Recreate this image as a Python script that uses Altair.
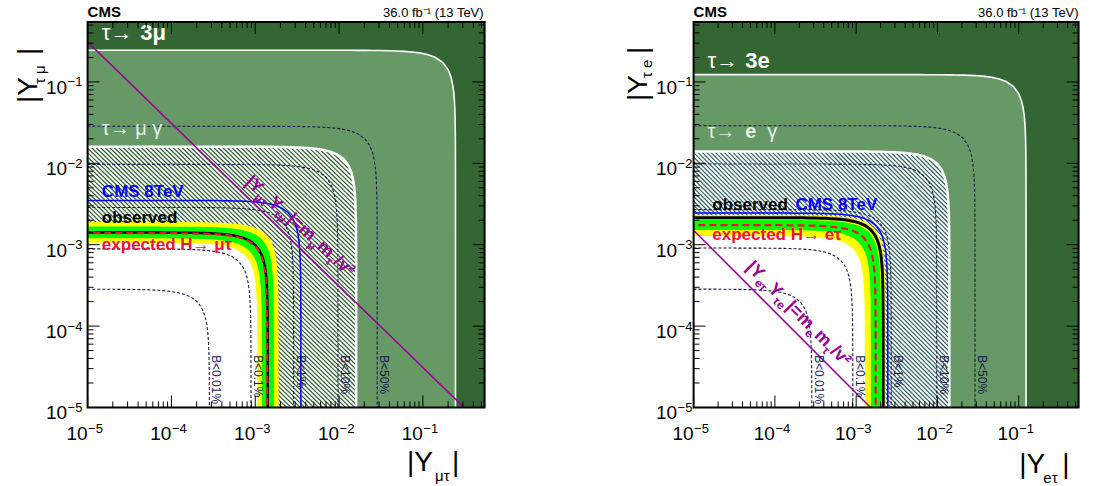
import numpy as np
import pandas as pd
import altair as alt

FONT = "Liberation Sans"

# ---- common log axis range, tick positions and tick label exponents ----
AX_MIN, AX_MAX = 1e-5, 0.545
MAJOR_TICKS = [1e-5, 1e-4, 1e-3, 1e-2, 1e-1]
TICK_EXPONENTS = ["−5", "−4", "−3", "−2", "−1"]
MINOR_TICKS = [m * d for d in MAJOR_TICKS for m in range(2, 10) if m * d <= AX_MAX]

B_LABELS = ["B<0.01%", "B<0.1%", "B<1%", "B<10%", "B<50%"]

# ---- H -> mu tau plane: contour radii in sqrt(|Y1|^2 + |Y2|^2) ----
MT_B_RADII = [2.84e-4, 8.9e-4, 2.87e-3, 9.7e-3, 2.85e-2]
MT_TAU_3L = 0.245          # tau -> 3 mu
MT_TAU_LG = 0.016          # tau -> mu gamma
MT_OBSERVED = 1.41e-3
MT_EXPECTED = 1.39e-3
MT_BAND_1SIG = [1.20e-3, 1.67e-3]
MT_BAND_2SIG = [1.06e-3, 1.90e-3]
MT_CMS_8TEV = 3.5e-3
MT_NATURALNESS = 3.1e-6    # m_mu m_tau / v^2

# ---- H -> e tau plane ----
ET_B_RADII = [2.85e-4, 9.1e-4, 2.7e-3, 9.8e-3, 2.9e-2]
ET_TAU_3L = 0.123          # tau -> 3 e
ET_TAU_LG = 0.014          # tau -> e gamma
ET_OBSERVED = 2.15e-3
ET_EXPECTED = 1.74e-3
ET_BAND_1SIG = [1.52e-3, 2.02e-3]
ET_BAND_2SIG = [1.28e-3, 2.30e-3]
ET_CMS_8TEV = 2.45e-3
ET_NATURALNESS = 1.5e-8    # m_e m_tau / v^2

NATURAL_X = [1e-7, 10.0]

DARK_GREEN = "#336633"
LIGHT_GREEN = "#669966"
YELLOW = "#ffff00"
BRIGHT_GREEN = "#00ff00"
RED = "#f01038"
BLUE = "#0000ff"
PURPLE = "#990099"
NAVY = "#161650"

LO = 1e-9  # curves run below the visible range and are clipped by the frame

XS = alt.Scale(type="log", domain=[AX_MIN, AX_MAX], nice=False)
YS = alt.Scale(type="log", domain=[AX_MIN, AX_MAX], nice=False)
ONE = pd.DataFrame({"k": [0]})
H = 385.5


def contour(r, n=90):
    """Iso-curve |Y1|^2 + |Y2|^2 = r^2, sampled evenly in log space."""
    a = np.logspace(np.log10(LO), np.log10(r / np.sqrt(2)), n)
    tail = a[::-1][1:]
    x = np.concatenate([a, np.sqrt(r * r - tail * tail)])
    y = np.concatenate([np.sqrt(r * r - a * a), tail])
    return pd.DataFrame({"x": x, "y": y, "o": np.arange(len(x)), "base": LO})


def hatch_segments(r, step=0.054):
    """Diagonal hatch lines (constant |Y1*Y2|) inside the iso-curve of radius r."""
    rows = []
    c = 2 * np.log10(AX_MIN) - step
    top = np.log10(r * r / 2)
    while c < top:
        k = 10 ** c
        far = np.sqrt((r * r + np.sqrt(max(r ** 4 - 4 * k * k, 0))) / 2)
        rows.append({"x": k / far, "y": far, "x2": far, "y2": k / far})
        c += step
    return pd.DataFrame(rows)


def build_panel(width, radii, r_3l, r_lg, observed, expected, band1, band2, cms8,
                naturalness, hatch_color, obs_width, ylab_right,
                data_labels, pixel_labels, nat_anchor, nat_angle, nat_pieces):
    def X(f="x"):
        return alt.X(f"{f}:Q", scale=XS, axis=None)

    def Y(f="y"):
        return alt.Y(f"{f}:Q", scale=YS, axis=None)

    def fill(r, color):
        return alt.Chart(contour(r)).mark_area(color=color, opacity=1, clip=True).encode(
            x=X(), y=Y(), y2="base:Q")

    def outline(r, color, w, dash=None):
        kw = dict(color=color, strokeWidth=w, clip=True)
        if dash:
            kw["strokeDash"] = dash
        return alt.Chart(contour(r)).mark_line(**kw).encode(x=X(), y=Y(), order="o:Q")

    box = pd.DataFrame({"x": [AX_MIN], "x2": [AX_MAX], "y": [AX_MIN], "y2": [AX_MAX]})
    layers = [
        alt.Chart(box).mark_rect(color=DARK_GREEN, opacity=1).encode(
            x=X(), x2="x2:Q", y=Y(), y2="y2:Q"),
        fill(r_3l, LIGHT_GREEN),
        fill(r_lg, "white"),
        alt.Chart(hatch_segments(r_lg)).mark_rule(color=hatch_color, strokeWidth=1.2, clip=True).encode(
            x=X(), y=Y(), x2="x2:Q", y2="y2:Q"),
        fill(band2[1], YELLOW),
        fill(band1[1], BRIGHT_GREEN),
        fill(band1[0], YELLOW),
        fill(band2[0], "white"),
    ]

    bdf = pd.concat([contour(r).assign(lev=lab) for r, lab in zip(radii, B_LABELS)])
    layers.append(alt.Chart(bdf).mark_line(color=NAVY, strokeWidth=1.1, strokeDash=[3, 2],
                                           clip=True).encode(x=X(), y=Y(), detail="lev:N", order="o:Q"))
    layers += [
        outline(r_3l, "white", 1.6),
        outline(r_lg, "white", 2.5),
        outline(cms8, BLUE, 1.5),
        outline(observed, "black", obs_width),
        outline(expected, RED, 2.2, [7, 4]),
    ]

    nat = pd.DataFrame({"x": NATURAL_X, "y": [naturalness / v for v in NATURAL_X]})
    layers.append(alt.Chart(nat).mark_line(color=PURPLE, strokeWidth=1.5, clip=True).encode(x=X(), y=Y()))

    # B labels, rotated, to the right of each vertical dashed contour
    blab = pd.DataFrame({"x": radii, "y": [4.4e-5] * len(radii), "t": B_LABELS})
    layers.append(alt.Chart(blab).mark_text(font=FONT, fontSize=12, color=NAVY, angle=90,
                                            align="left", baseline="bottom").encode(
        x=X(), y=Y(), text="t:N"))

    nd = pd.DataFrame({"x": [nat_anchor[0]], "y": [nat_anchor[1]]})
    for s, dx, dy, fs in nat_pieces:
        layers.append(alt.Chart(nd).mark_text(text=s, font=FONT, fontSize=fs, fontWeight="bold",
                                              color=PURPLE, angle=nat_angle, align="left",
                                              baseline="alphabetic", dx=dx, dy=dy).encode(x=X(), y=Y()))

    for x, y, s, kw in data_labels:
        d = pd.DataFrame({"x": [x], "y": [y]})
        opts = dict(font=FONT, align="left", baseline="alphabetic")
        opts.update(kw)
        layers.append(alt.Chart(d).mark_text(text=s, **opts).encode(x=X(), y=Y()))

    for px, py, s, kw in pixel_labels:
        opts = dict(font=FONT, align="left", baseline="alphabetic", color="black")
        opts.update(kw)
        layers.append(alt.Chart(ONE).mark_text(text=s, **opts).encode(
            x=alt.value(px), y=alt.value(py)))

    # tick labels written as "10" with a raised exponent
    tl = pd.DataFrame({"v": MAJOR_TICKS, "e": TICK_EXPONENTS})
    base = dict(font=FONT, baseline="alphabetic", color="black")
    layers += [
        alt.Chart(tl).mark_text(text="10", align="right", fontSize=19, **base).encode(
            x=alt.X("v:Q", scale=XS, axis=None), y=alt.value(H + 32.5)),
        alt.Chart(tl).mark_text(align="left", fontSize=13, dx=0.5, **base).encode(
            x=alt.X("v:Q", scale=XS, axis=None), y=alt.value(H + 25.5), text="e:N"),
        alt.Chart(tl).mark_text(text="10", align="right", fontSize=19, dy=12, **base).encode(
            y=alt.Y("v:Q", scale=YS, axis=None), x=alt.value(ylab_right)),
        alt.Chart(tl).mark_text(align="left", fontSize=13, dx=0.5, dy=4.5, **base).encode(
            y=alt.Y("v:Q", scale=YS, axis=None), x=alt.value(ylab_right), text="e:N"),
    ]

    # inward ticks on all four sides
    for vals, ln in ((MAJOR_TICKS, 12), (MINOR_TICKS, 6)):
        td = pd.DataFrame({"v": vals})
        layers += [
            alt.Chart(td).mark_rule(color="black", strokeWidth=1).encode(
                x=alt.X("v:Q", scale=XS, axis=None), y=alt.value(H), y2=alt.value(H - ln)),
            alt.Chart(td).mark_rule(color="black", strokeWidth=1).encode(
                x=alt.X("v:Q", scale=XS, axis=None), y=alt.value(0), y2=alt.value(ln)),
            alt.Chart(td).mark_rule(color="black", strokeWidth=1).encode(
                y=alt.Y("v:Q", scale=YS, axis=None), x=alt.value(0), x2=alt.value(ln)),
            alt.Chart(td).mark_rule(color="black", strokeWidth=1).encode(
                y=alt.Y("v:Q", scale=YS, axis=None), x=alt.value(width), x2=alt.value(width - ln)),
        ]

    layers.append(alt.Chart(box).mark_rect(filled=False, stroke="black", strokeWidth=2).encode(
        x=X(), x2="x2:Q", y=Y(), y2="y2:Q"))

    return alt.layer(*layers).properties(width=width, height=H)


W_MT, W_ET = 397, 385
LUMI = "36.0 fb⁻¹ (13 TeV)"

mt_data_labels = [
    (1.48e-5, 0.325, "τ→", dict(fontSize=22, color="white")),
    (4.24e-5, 0.325, "3μ", dict(fontSize=22, color="white", fontWeight="bold")),
    (1.48e-5, 0.0222, "τ→ μ γ", dict(fontSize=20, color="#e4eee4")),
    (1.48e-5, 3.84e-3, "CMS 8TeV", dict(fontSize=17, color=BLUE, fontWeight="bold")),
    (1.48e-5, 1.84e-3, "observed", dict(fontSize=17, color="black", fontWeight="bold")),
    (1.48e-5, 8.59e-4, "expected H→ μτ", dict(fontSize=17, color=RED, fontWeight="bold")),
]
mt_pixel_labels = [
    (0, -5, "CMS", dict(fontSize=15, fontWeight="bold")),
    (W_MT - 1, -5, LUMI, dict(fontSize=13, align="right")),
    (319.5, 449.5, "|Y", dict(fontSize=28)),
    (347.5, 459.5, "μτ", dict(fontSize=15)),
    (364.5, 449.5, "|", dict(fontSize=28)),
    (-50.5, 81, "|Y", dict(fontSize=28, angle=270)),
    (-42.5, 62, "τ μ", dict(fontSize=15, angle=270)),
    (-50.5, 33, "|", dict(fontSize=28, angle=270)),
]
mt_nat_pieces = [("|Y", 0, 0, 18), ("μτ", 17, 5, 12), ("Y", 31, 0, 18), ("τμ", 42.5, 5, 12),
                 ("|=m", 56, 0, 18), ("μ", 88, 5, 12), ("m", 96.5, 0, 18), ("τ", 112.5, 5, 12),
                 ("/v²", 119, 0, 18)]

et_data_labels = [
    (1.48e-5, 0.147, "τ→", dict(fontSize=22, color="white")),
    (4.33e-5, 0.147, "3e", dict(fontSize=22, color="white", fontWeight="bold")),
    (1.48e-5, 0.0203, "τ→", dict(fontSize=20, color="#e4eee4")),
    (4.33e-5, 0.0203, "e", dict(fontSize=20, color="#e4eee4", fontWeight="bold")),
    (8.07e-5, 0.0203, "γ", dict(fontSize=20, color="#e4eee4")),
    (1.7e-5, 2.66e-3, "observed", dict(fontSize=17, color="black", fontWeight="bold")),
    (1.79e-4, 2.66e-3, "CMS 8TeV", dict(fontSize=17, color=BLUE, fontWeight="bold")),
    (1.7e-5, 1.14e-3, "expected H→ eτ", dict(fontSize=17, color=RED, fontWeight="bold")),
]
et_pixel_labels = [
    (0, -5, "CMS", dict(fontSize=15, fontWeight="bold")),
    (W_ET, -5, LUMI, dict(fontSize=13, align="right")),
    (325.7, 451.3, "|Y", dict(fontSize=28)),
    (349.7, 461, "eτ", dict(fontSize=15)),
    (368.7, 451.3, "|", dict(fontSize=28)),
    (-46.6, 79, "|Y", dict(fontSize=28, angle=270)),
    (-41.3, 56, "τ e", dict(fontSize=15, angle=270)),
    (-46.6, 32, "|", dict(fontSize=28, angle=270)),
]
et_nat_pieces = [("|Y", 0, 0, 18), ("eτ", 17, 5, 12), ("Y", 31, 0, 18), ("τe", 42.5, 5, 12),
                 ("|=m", 56, 0, 18), ("e", 88, 5, 12), ("m", 96.5, 0, 18), ("τ", 112.5, 5, 12),
                 ("/v²", 119, 0, 18)]

left = build_panel(W_MT, MT_B_RADII, MT_TAU_3L, MT_TAU_LG, MT_OBSERVED, MT_EXPECTED,
                   MT_BAND_1SIG, MT_BAND_2SIG, MT_CMS_8TEV, MT_NATURALNESS, "#2f5f2f", 2.5,
                   -20.5, mt_data_labels, mt_pixel_labels, (7.41e-4, 5.7e-3), 42, mt_nat_pieces)
right = build_panel(W_ET, ET_B_RADII, ET_TAU_3L, ET_TAU_LG, ET_OBSERVED, ET_EXPECTED,
                    ET_BAND_1SIG, ET_BAND_2SIG, ET_CMS_8TEV, ET_NATURALNESS, "#2f6060", 3,
                    -16.5, et_data_labels, et_pixel_labels, (4.33e-5, 5.16e-4), 45, et_nat_pieces)

chart = (
    alt.hconcat(left, right, spacing=209, bounds="flush")
    .properties(padding={"left": 14.6, "top": 5, "right": 0, "bottom": 0})
    .configure_view(stroke=None)
)

chart.save("out.html", embed_options={"renderer": "svg", "actions": False})
